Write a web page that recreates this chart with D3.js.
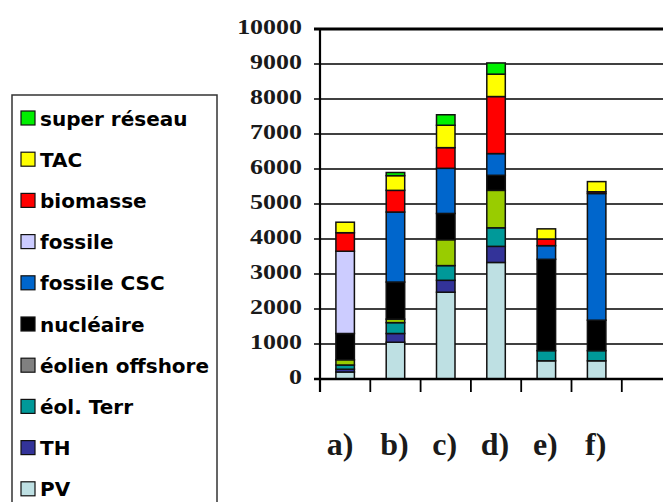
<!DOCTYPE html>
<html><head><meta charset="utf-8">
<script src="https://cdn.jsdelivr.net/npm/d3@7"></script>
<style>body{margin:0;background:#fff}svg{display:block}</style>
</head><body>
<script>
const categories = ["a)", "b)", "c)", "d)", "e)", "f)", ""];
const seriesNames = ["PV", "TH", "éol. Terr", "éolien offshore", "nucléaire", "fossile CSC", "fossile", "biomasse", "TAC", "super réseau"];
const PV        = [200, 1050, 2480, 3330, 520, 520, 0];
const TH        = [80, 250, 340, 460, 0, 0, 0];
const eolTerr   = [120, 310, 420, 530, 290, 290, 0];
const offshore  = [150, 100, 740, 1070, 0, 0, 0];
const nucleaire = [750, 1060, 750, 430, 2610, 870, 0];
const fossileCSC= [0, 2000, 1290, 620, 390, 3620, 0];
const fossile   = [2350, 0, 0, 0, 0, 0, 0];
const biomasse  = [530, 620, 590, 1630, 190, 50, 0];
const TAC       = [300, 420, 640, 640, 290, 290, 0];
const superReseau=[0, 90, 300, 320, 0, 0, 0];
const seriesValues = [PV, TH, eolTerr, offshore, nucleaire, fossileCSC, fossile, biomasse, TAC, superReseau];
const barColors = ["#BEE0E3", "#333399", "#009999", "#99CC00", "#000000", "#0066CC", "#CCCCFF", "#FF0000", "#FFFF00", "#00F000"];
const legendColors = ["#BEE0E3", "#333399", "#009999", "#808080", "#000000", "#0066CC", "#CCCCFF", "#FF0000", "#FFFF00", "#00F000"];
const yTicks = [0,1000,2000,3000,4000,5000,6000,7000,8000,9000,10000];

const W = 663, H = 502;
const svg = d3.select("body").append("svg").attr("width", W).attr("height", H);

const y = d3.scaleLinear().domain([0, 10000]).range([379, 29]);
const x = d3.scaleBand().domain(categories.map((c,i)=>i)).range([320, 320 + 7*50.3]).padding(0);
const bw = x.bandwidth();
const barW = 18.5;

const rows = categories.map((c,i)=>{
  const r = {i};
  seriesNames.forEach((s,k)=> r[s] = seriesValues[k][i]);
  return r;
});
const stack = d3.stack().keys(seriesNames)(rows);

// gridlines
svg.append("g").selectAll("line").data(yTicks).join("line")
  .attr("x1", 314).attr("x2", W)
  .attr("y1", d=>y(d)).attr("y2", d=>y(d))
  .attr("stroke", "#000").attr("stroke-width", d=> d===10000 ? 3 : 1.6);

// y tick labels
svg.append("g").selectAll("text").data(yTicks).join("text")
  .attr("transform", d=>`translate(302,${y(d)+5}) scale(1.18,1)`)
  .attr("text-anchor", "end")
  .attr("font-family", "Liberation Serif, Times New Roman, serif")
  .attr("font-weight", "bold").attr("font-size", 22).attr("fill", "#1a1a1a")
  .text(d=>d);

// bars
const gBars = svg.append("g");
stack.forEach((layer,k)=>{
  gBars.append("g").selectAll("rect").data(layer.filter(d=>d[1]-d[0]>0)).join("rect")
    .attr("x", d=> x(d.data.i) + (bw-barW)/2)
    .attr("width", barW)
    .attr("y", d=> y(d[1]))
    .attr("height", d=> y(d[0]) - y(d[1]))
    .attr("fill", barColors[k])
    .attr("stroke", "#111").attr("stroke-width", 1.5);
});

// axes lines
svg.append("line").attr("x1", 320).attr("x2", 320).attr("y1", y(10000)).attr("y2", 392)
  .attr("stroke", "#000").attr("stroke-width", 2.2);
svg.append("line").attr("x1", 314).attr("x2", W).attr("y1", y(0)).attr("y2", y(0))
  .attr("stroke", "#000").attr("stroke-width", 2.6);
svg.append("g").selectAll("line").data(d3.range(8)).join("line")
  .attr("x1", d=>320 + d*50.3).attr("x2", d=>320 + d*50.3)
  .attr("y1", y(0)).attr("y2", 392).attr("stroke", "#000").attr("stroke-width", 1.8);

// category labels
svg.append("g").selectAll("text").data(categories.filter(c=>c)).join("text")
  .attr("x", (d,i)=> x(i) + bw/2 - (i===0?5:1))
  .attr("y", 455)
  .attr("text-anchor", "middle")
  .attr("font-family", "Liberation Serif, Times New Roman, serif")
  .attr("font-weight", "bold").attr("font-size", 32).attr("fill", "#1a1a1a")
  .text(d=>d);

// legend
const lg = svg.append("g");
lg.append("rect").attr("x", 12).attr("y", 95).attr("width", 205).attr("height", 420)
  .attr("fill", "#fff").attr("stroke", "#333").attr("stroke-width", 1.5);
const legendOrder = d3.range(seriesNames.length).reverse();
const items = lg.selectAll("g.item").data(legendOrder).join("g")
  .attr("transform", (k,j)=>`translate(0,${118 + j*41.2})`);
items.append("rect").attr("x", 21).attr("y", -7).attr("width", 14).attr("height", 14)
  .attr("fill", k=>legendColors[k]).attr("stroke", "#111").attr("stroke-width", 1.2);
items.append("text").attr("x", 40).attr("y", 7.5)
  .attr("font-family", "DejaVu Sans, sans-serif")
  .attr("font-weight", "bold").attr("font-size", 20)
  .attr("fill", "#000")
  .text(k=>seriesNames[k]);
</script>
</body></html>
